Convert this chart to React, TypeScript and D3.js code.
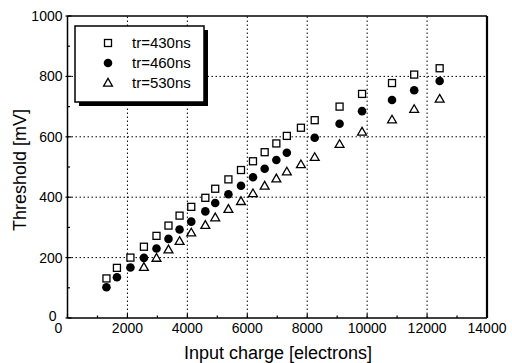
import React from "react";
import * as d3 from "d3";

const xCharge = [1300, 1650, 2100, 2550, 2970, 3370, 3740, 4130, 4600, 4930, 5370, 5790, 6190, 6580, 6970, 7320, 7790, 8250, 9080, 9830, 10830, 11570, 12420];
const tr430 = [131, 166, 200, 236, 272, 306, 339, 368, 398, 428, 459, 490, 519, 549, 578, 603, 630, 655, 700, 742, 778, 806, 827];
const xCharge460 = [1300, 1650, 2100, 2550, 2970, 3370, 3740, 4130, 4600, 4930, 5370, 5790, 6190, 6580, 6970, 7320, 8250, 9080, 9830, 10830, 11570, 12420];
const tr460 = [102, 135, 167, 199, 230, 262, 293, 319, 353, 381, 410, 438, 466, 494, 523, 547, 597, 643, 685, 722, 754, 785];
const xCharge530 = [2550, 2970, 3370, 3740, 4130, 4600, 4930, 5370, 5790, 6190, 6580, 6970, 7320, 7790, 8250, 9080, 9830, 10830, 11570, 12420];
const tr530 = [168, 198, 226, 254, 282, 307, 332, 360, 386, 412, 437, 461, 484, 508, 532, 575, 616, 656, 691, 725];

const xTicks = [0, 2000, 4000, 6000, 8000, 10000, 12000, 14000];
const xMinor = [1000, 3000, 5000, 7000, 9000, 11000, 13000];
const yTicks = [0, 200, 400, 600, 800, 1000];
const yMinor = [100, 300, 500, 700, 900];
const legendLabels = ["tr=430ns", "tr=460ns", "tr=530ns"];

const FONT = "'Liberation Sans', Arial, Helvetica, sans-serif";

export default function App() {
  const x = d3.scaleLinear().domain([0, 14000]).range([67.5, 487]);
  const y = d3.scaleLinear().domain([0, 1000]).range([318, 16]);
  const [x0, x1] = x.range();
  const [y0, y1] = y.range();

  const sq = 7;
  const triPath = (cx: number, cy: number) => {
    const s = d3.symbol().type(d3.symbolTriangle).size(34)();
    return { d: s as string, t: `translate(${cx},${cy + 0.5})` };
  };

  return (
    <svg width={512} height={363} style={{ position: "absolute", left: 0, top: 0, background: "#fff" }} fontFamily={FONT}>
      <rect x={0} y={0} width={512} height={363} fill="#fff" />
      {/* grid */}
      {xTicks.slice(1, -1).map((t) => (
        <line key={"gx" + t} x1={x(t)} x2={x(t)} y1={y0} y2={y1} stroke="#000" strokeWidth={1} strokeDasharray="1.5,2.5" />
      ))}
      {yTicks.slice(1, -1).map((t) => (
        <line key={"gy" + t} x1={x0} x2={x1} y1={y(t)} y2={y(t)} stroke="#000" strokeWidth={1} strokeDasharray="1.5,2.5" />
      ))}
      {/* frame */}
      <line x1={x0} x2={x1} y1={y1} y2={y1} stroke="#000" strokeWidth={1.5} />
      <line x1={x1} x2={x1} y1={y1} y2={y0} stroke="#000" strokeWidth={2.2} />
      <line x1={x0} x2={x1} y1={y0} y2={y0} stroke="#000" strokeWidth={1.5} />
      <line x1={x0} x2={x0} y1={y1} y2={y0} stroke="#000" strokeWidth={1.5} />
      {/* ticks */}
      {xTicks.map((t) => (
        <line key={"tx" + t} x1={x(t)} x2={x(t)} y1={y0} y2={y0 - 4} stroke="#000" strokeWidth={1.2} />
      ))}
      {xMinor.map((t) => (
        <line key={"mx" + t} x1={x(t)} x2={x(t)} y1={y0} y2={y0 - 2.5} stroke="#000" strokeWidth={1.2} />
      ))}
      {yTicks.map((t) => (
        <line key={"ty" + t} x1={x0 - 2} x2={x0 + 4} y1={y(t)} y2={y(t)} stroke="#000" strokeWidth={1.2} />
      ))}
      {yMinor.map((t) => (
        <line key={"my" + t} x1={x0} x2={x0 + 2.5} y1={y(t)} y2={y(t)} stroke="#000" strokeWidth={1.2} />
      ))}
      {/* tick labels */}
      {xTicks.map((t, i) => (
        <text key={"lx" + t} x={x(t) + (i === 0 ? -9 : 0)} y={y0 + 15} textAnchor="middle" fontSize={14} fill="#000">
          {t}
        </text>
      ))}
      {yTicks.map((t, i) => (
        <text key={"ly" + t} x={x0 - (i === 0 ? 11 : 5)} y={y(t) + (i === 0 ? 3 : 5)} textAnchor="end" fontSize={14} fill="#000">
          {t}
        </text>
      ))}
      {/* axis titles */}
      <text x={278} y={359} textAnchor="middle" fontSize={18} fill="#000">Input charge [electrons]</text>
      <text transform={`translate(26,170) rotate(-90)`} textAnchor="middle" fontSize={18} fill="#000">Threshold [mV]</text>
      {/* data */}
      {xCharge.map((v, i) => (
        <rect key={"s" + i} x={x(v) - sq / 2} y={y(tr430[i]) - sq / 2} width={sq} height={sq} fill="#fff" stroke="#000" strokeWidth={1.3} />
      ))}
      {xCharge460.map((v, i) => (
        <circle key={"c" + i} cx={x(v)} cy={y(tr460[i])} r={4.3} fill="#000" />
      ))}
      {xCharge530.map((v, i) => {
        const p = triPath(x(v), y(tr530[i]));
        return <path key={"t" + i} d={p.d} transform={p.t} fill="#fff" stroke="#000" strokeWidth={1.3} />;
      })}
      {/* legend */}
      <rect x={79} y={30} width={129} height={76} fill="#000" />
      <rect x={75} y={26} width={129} height={76} fill="#fff" stroke="#000" strokeWidth={1.5} />
      <rect x={108 - 3.5} y={43 - 3.5} width={7} height={7} fill="#fff" stroke="#000" strokeWidth={1.3} />
      <circle cx={108} cy={63} r={4.3} fill="#000" />
      {(() => {
        const p = triPath(108, 83);
        return <path d={p.d} transform={p.t} fill="#fff" stroke="#000" strokeWidth={1.3} />;
      })()}
      {legendLabels.map((l, i) => (
        <text key={l} x={132} y={48 + i * 20} fontSize={15} fill="#000">{l}</text>
      ))}
    </svg>
  );
}
